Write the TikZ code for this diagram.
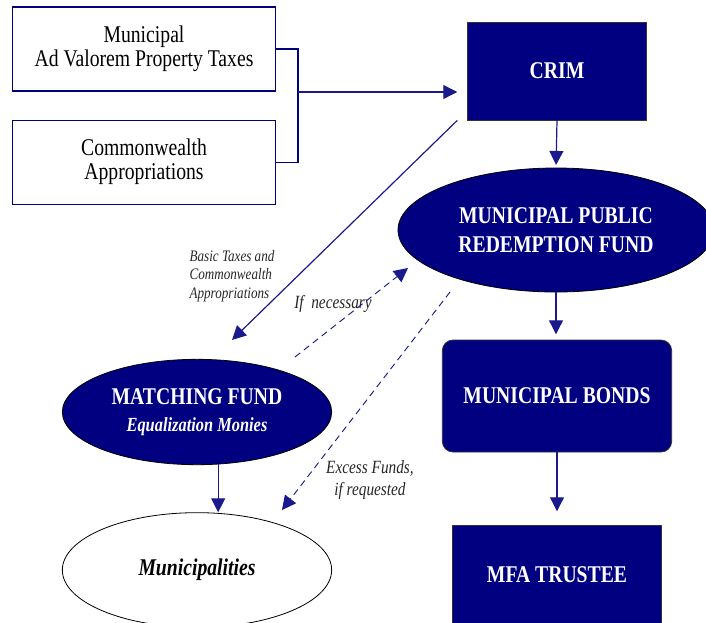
\documentclass[tikz,border=0pt]{standalone}
\usepackage{fontspec}
\setmainfont{Liberation Serif}[FakeStretch=0.82]
\usetikzlibrary{arrows.meta,positioning,shapes.geometric,calc}
\definecolor{Navy}{HTML}{000080}
\definecolor{LineBlue}{HTML}{1A1A8C}

\begin{document}
\begin{tikzpicture}[x=0.75pt, y=-0.75pt,
  source/.style={draw=Navy, line width=0.9pt, minimum width=197pt, minimum height=63pt, align=center, font=\fontsize{18}{18}\selectfont},
  darkbox/.style={draw=black!80, fill=Navy, text=white, line width=0.6pt, align=center, font=\fontsize{18}{22}\selectfont\bfseries},
  darkoval/.style={ellipse, draw=black, fill=Navy, text=white, line width=0.6pt, inner sep=0pt, align=center, font=\fontsize{18}{22}\selectfont\bfseries},
  arrow/.style={-{Triangle[length=10.5pt,width=10.5pt]}, line width=0.9pt, draw=LineBlue},
  dasharrow/.style={arrow, line width=0.7pt, dash pattern=on 5pt off 3.5pt},
  note/.style={font=\fontsize{12}{14}\selectfont\itshape, text=black!85}
]
  \useasboundingbox (0,0) rectangle (706,622);

  % sources of revenue
  \node[source] (taxes) at (144,49) {Municipal\\Ad Valorem Property Taxes};
  \node[source, below=21pt of taxes] (approp) {Commonwealth\\Appropriations};

  % main chain
  \node[darkbox, minimum width=134pt, minimum height=73.5pt] (crim) at (557,71) {CRIM};
  \node[darkoval, minimum width=237pt, minimum height=93pt] (mprf) at (556,230) {MUNICIPAL PUBLIC\\REDEMPTION FUND};
  \node[darkbox, rounded corners=8pt, minimum width=172pt, minimum height=84pt] (bonds) at (557,396) {MUNICIPAL BONDS};
  \node[darkbox, minimum width=157pt, minimum height=75pt] (mfa) at (557,575) {MFA TRUSTEE};

  % left side
  \node[darkoval, minimum width=202pt, minimum height=79pt] (match) at (197,412) {MATCHING FUND\\[-2pt]{\fontsize{15}{18}\selectfont\itshape Equalization Monies}};
  \node[ellipse, draw=black, line width=0.6pt, minimum width=202pt, minimum height=86pt, font=\fontsize{18}{22}\selectfont\bfseries\itshape] (muni) at (197,570) {Municipalities};

  % labels
  \node[note, align=left] (basic) at (232,276) {Basic Taxes and\\Commonwealth\\Appropriations};
  \node[note, font=\fontsize{14}{16}\selectfont\itshape] (needed) at (333,304) {If\ \ necessary};
  \node[note, align=center, font=\fontsize{14}{16}\selectfont\itshape] (excess) at (370,480) {Excess Funds,\\if requested};

  \coordinate (join) at (298,92);
  \coordinate (basicend) at (232,340);
  \coordinate (needfrom) at (295,357);
  \coordinate (needto) at (408,268);
  \coordinate (excessfrom) at (450,292);
  \coordinate (excessto) at (282,510);

  \draw[draw=Navy, line width=0.9pt] (taxes.east) -| (join) |- (approp.east);
  \draw[arrow, shorten >=7.5pt] (join) -- (join -| crim.west);
  \draw[arrow, shorten >=2pt] (crim.south) -- (mprf.north);
  \draw[arrow, shorten >=4pt] (mprf.south) -- (mprf.south |- bonds.north);
  \draw[arrow, shorten >=10pt] (bonds.south) -- (mfa.north);
  \draw[arrow] ([xshift=-7.5pt]crim.south west) -- (basicend);
  \draw[arrow] (match.-68) -- (match.-68 |- muni.north);
  \draw[dasharrow] (needfrom) -- (needto);
  \draw[dasharrow] (excessfrom) -- (excessto);
\end{tikzpicture}
\end{document}
